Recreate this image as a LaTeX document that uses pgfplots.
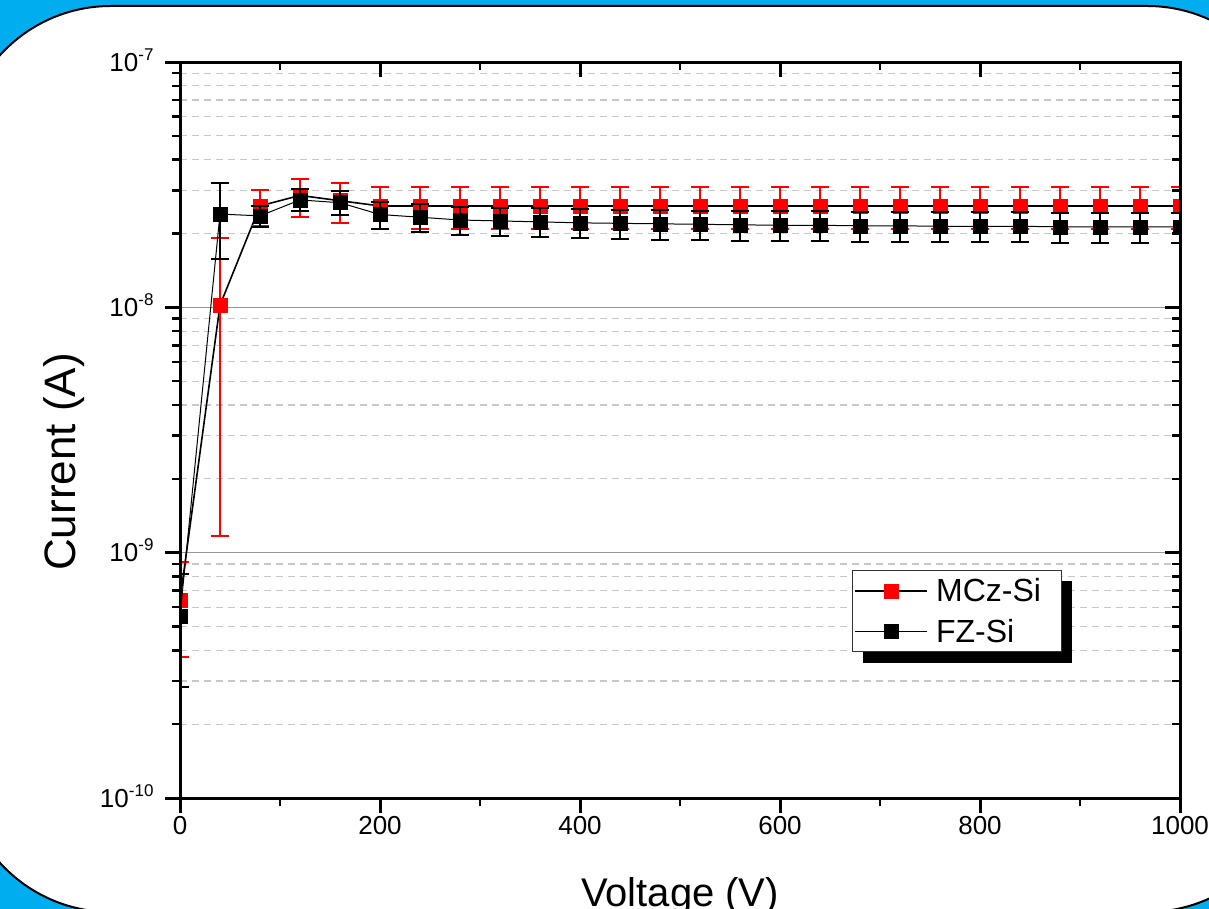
\documentclass[border=0pt]{standalone}
\usepackage{fontspec}
\setmainfont{Liberation Sans}
\usepackage{pgfplots}
\usepackage{pgfplotstable}
\pgfplotsset{compat=1.18}
\definecolor{bgblue}{RGB}{0,174,239}
\definecolor{majgrid}{RGB}{150,150,150}
\definecolor{mingrid}{RGB}{200,200,200}
\newcommand{\ex}[1]{10\raisebox{11pt}{\fontsize{17pt}{17pt}\selectfont #1}}

\pgfplotstableread{
x y ep em
0 6.41e-10 2.75e-10 2.66e-10
40 1.02e-8 0.90e-8 0.903e-8
80 2.59e-8 0.42e-8 0.45e-8
120 2.86e-8 0.48e-8 0.52e-8
160 2.72e-8 0.49e-8 0.51e-8
200 2.59e-8 0.50e-8 0.51e-8
240 2.59e-8 0.50e-8 0.51e-8
280 2.59e-8 0.50e-8 0.51e-8
320 2.59e-8 0.50e-8 0.51e-8
360 2.59e-8 0.50e-8 0.51e-8
400 2.59e-8 0.50e-8 0.51e-8
440 2.59e-8 0.50e-8 0.51e-8
480 2.59e-8 0.50e-8 0.51e-8
520 2.59e-8 0.50e-8 0.51e-8
560 2.59e-8 0.50e-8 0.51e-8
600 2.59e-8 0.50e-8 0.51e-8
640 2.59e-8 0.50e-8 0.51e-8
680 2.59e-8 0.50e-8 0.51e-8
720 2.59e-8 0.50e-8 0.51e-8
760 2.59e-8 0.50e-8 0.51e-8
800 2.59e-8 0.50e-8 0.51e-8
840 2.59e-8 0.50e-8 0.51e-8
880 2.59e-8 0.50e-8 0.51e-8
920 2.59e-8 0.50e-8 0.51e-8
960 2.59e-8 0.50e-8 0.51e-8
1000 2.59e-8 0.50e-8 0.51e-8
}\mcz

\pgfplotstableread{
x y ep em
0 5.52e-10 2.66e-10 2.69e-10
40 2.40e-8 0.81e-8 0.83e-8
80 2.36e-8 0.23e-8 0.24e-8
120 2.74e-8 0.30e-8 0.27e-8
160 2.67e-8 0.30e-8 0.30e-8
200 2.39e-8 0.30e-8 0.30e-8
240 2.33e-8 0.30e-8 0.30e-8
280 2.27e-8 0.30e-8 0.30e-8
320 2.25e-8 0.30e-8 0.30e-8
360 2.23e-8 0.30e-8 0.30e-8
400 2.21e-8 0.30e-8 0.30e-8
440 2.20e-8 0.30e-8 0.30e-8
480 2.19e-8 0.30e-8 0.30e-8
520 2.18e-8 0.30e-8 0.30e-8
560 2.17e-8 0.30e-8 0.30e-8
600 2.16e-8 0.30e-8 0.30e-8
640 2.16e-8 0.30e-8 0.30e-8
680 2.15e-8 0.30e-8 0.30e-8
720 2.15e-8 0.30e-8 0.30e-8
760 2.14e-8 0.30e-8 0.30e-8
800 2.14e-8 0.30e-8 0.30e-8
840 2.14e-8 0.30e-8 0.30e-8
880 2.13e-8 0.30e-8 0.30e-8
920 2.13e-8 0.30e-8 0.30e-8
960 2.13e-8 0.30e-8 0.30e-8
1000 2.13e-8 0.30e-8 0.30e-8
}\fz

\begin{document}
\begin{tikzpicture}[x=1pt,y=1pt]
\useasboundingbox (0,0) rectangle (1209,909);
\clip (0,0) rectangle (1209,909);
\fill[bgblue] (0,0) rectangle (1209,909);
\draw[line width=2pt, fill=white, rounded corners=150pt] (-39,-3) rectangle (1297,903);

\begin{axis}[
  scale only axis, width=1000pt, height=736pt,
  at={(180pt,111pt)}, anchor=south west,
  xmin=0, xmax=1000, ymin=1e-10, ymax=1e-7, ymode=log,
  xtick={0,200,...,1000}, minor xtick={100,300,...,900},
  ytick={1e-10,1e-9,1e-8,1e-7},
  yticklabels={\ex{-10},\ex{-9},\ex{-8},\ex{-7}},
  minor ytick={2e-10,3e-10,4e-10,5e-10,6e-10,7e-10,8e-10,9e-10,
               2e-9,3e-9,4e-9,5e-9,6e-9,7e-9,8e-9,9e-9,
               2e-8,3e-8,4e-8,5e-8,6e-8,7e-8,8e-8,9e-8},
  xtick pos=left, ytick pos=left, tick align=outside,
  major tick length=15pt, minor tick length=8pt,
  major tick style={black, line width=3pt},
  minor tick style={black, line width=2.5pt},
  axis line style={line width=3pt},
  ymajorgrids, yminorgrids,
  major grid style={majgrid, line width=1.3pt, solid},
  minor grid style={mingrid, line width=1.2pt, dash pattern=on 7pt off 5pt},
  ticklabel style={font=\fontsize{26pt}{26pt}\selectfont},
  /pgf/number format/assume math mode=true,
  /pgf/number format/1000 sep={},
  yticklabel style={anchor=base east, yshift=-9pt, xshift=-8pt},
  xlabel={Voltage (V)}, ylabel={Current (A)},
  xlabel style={font=\fontsize{40pt}{40pt}\selectfont, at={(axis description cs:0.5,-0.148)}, anchor=base},
  ylabel style={font=\fontsize{44pt}{44pt}\selectfont, at={(axis description cs:-0.105,0.4565)}, anchor=base, rotate=0},
  clip marker paths=true,
  legend style={at={(axis description cs:0.672,0.3098)}, anchor=north west,
    draw=black!80, line width=1pt, fill=white,
    font=\fontsize{32pt}{32pt}\selectfont,
    inner xsep=2pt, inner ysep=6pt, row sep=12pt, column sep=6pt,
    cells={anchor=west}},
  legend image code/.code={%
    \draw[#1, mark=none] (0pt,0pt) -- (72pt,0pt);
    \draw[#1] plot coordinates {(36pt,0pt)};},
]
% legend shadow
\fill[black] (axis description cs:0.683,0.1834) rectangle (axis description cs:0.892,0.2948);
\addplot[black, line width=1.6pt, mark=square*, mark size=7pt,
  mark options={draw=red, fill=red, solid, line width=0.5pt},
  error bars/.cd, y dir=both, y explicit,
  error bar style={red, line width=2pt},
  error mark options={red, line width=2pt, mark size=9pt, rotate=90}]
  table[x=x, y=y, y error plus=ep, y error minus=em] {\mcz};
\addlegendentry{MCz-Si\kern17pt}
\addplot[black, line width=1pt, mark=square*, mark size=7pt,
  mark options={draw=black, fill=black, solid, line width=0.5pt},
  error bars/.cd, y dir=both, y explicit,
  error bar style={black, line width=2pt},
  error mark options={black, line width=2pt, mark size=9pt, rotate=90}]
  table[x=x, y=y, y error plus=ep, y error minus=em] {\fz};
\addlegendentry{FZ-Si}
\end{axis}

\begin{axis}[
  scale only axis, width=1000pt, height=736pt,
  at={(180pt,111pt)}, anchor=south west,
  xmin=0, xmax=1000, ymin=1e-10, ymax=1e-7, ymode=log,
  xtick={0,200,...,1000}, minor xtick={100,300,...,900},
  ytick={1e-10,1e-9,1e-8,1e-7},
  minor ytick={2e-10,3e-10,4e-10,5e-10,6e-10,7e-10,8e-10,9e-10,
               2e-9,3e-9,4e-9,5e-9,6e-9,7e-9,8e-9,9e-9,
               2e-8,3e-8,4e-8,5e-8,6e-8,7e-8,8e-8,9e-8},
  xtick pos=right, ytick pos=right, tick align=inside,
  xticklabels={}, yticklabels={},
  ticklabel style={opacity=0, text opacity=0},
  major tick length=15pt, minor tick length=8pt,
  major tick style={black, line width=3pt},
  minor tick style={black, line width=2.5pt},
  axis line style={line width=3pt},
]
\end{axis}
\end{tikzpicture}
\end{document}
